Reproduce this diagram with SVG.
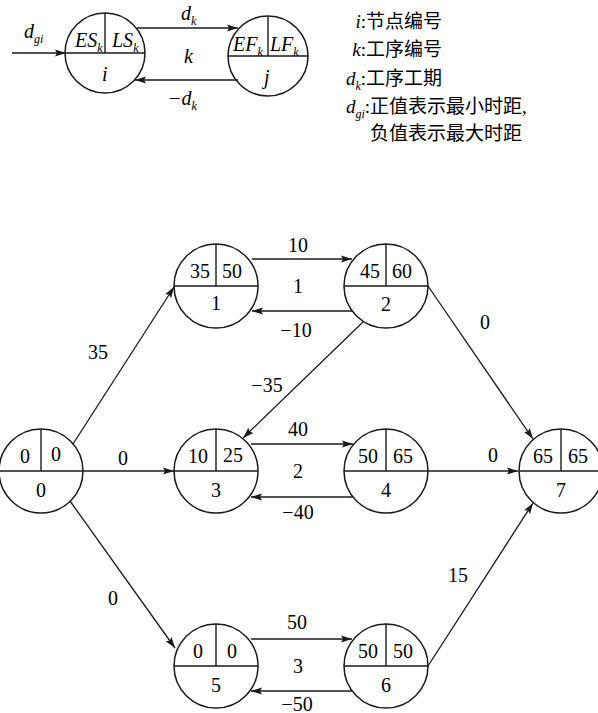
<svg xmlns="http://www.w3.org/2000/svg" width="598" height="713" viewBox="0 0 598 713">
<style>
.c{fill:none;stroke:#1a1a1a;stroke-width:1.5}
.l{stroke:#1a1a1a;stroke-width:1.4;fill:none}
.e{stroke:#1a1a1a;stroke-width:1.3;fill:none;marker-end:url(#ah)}
</style>
<defs>
<marker id="ah" markerUnits="userSpaceOnUse" markerWidth="12" markerHeight="8" refX="11" refY="4" orient="auto">
<path d="M0,0.4 L11,4 L0,7.6 L2,4 z" fill="#1a1a1a"/>
</marker>
</defs>
<rect width="598" height="713" fill="#fff"/>
<g id="legend-i">
<circle class="c" cx="105" cy="53" r="40"/>
<line class="l" x1="65" y1="53" x2="145" y2="53"/>
<line class="l" x1="105" y1="13" x2="105" y2="53"/>
<text font-family="Liberation Serif" font-style="italic" font-size="20" x="75" y="47">ES<tspan font-size="12" dy="5">k</tspan></text>
<text font-family="Liberation Serif" font-style="italic" font-size="20" x="112" y="47">LS<tspan font-size="12" dy="5">k</tspan></text>
<text font-family="Liberation Serif" font-style="italic" font-size="20" x="102" y="81">i</text>
</g>
<g id="legend-j">
<circle class="c" cx="268" cy="56" r="40"/>
<line class="l" x1="228" y1="56" x2="308" y2="56"/>
<line class="l" x1="268" y1="16" x2="268" y2="56"/>
<text font-family="Liberation Serif" font-style="italic" font-size="20" x="233" y="51">EF<tspan font-size="12" dy="5">k</tspan></text>
<text font-family="Liberation Serif" font-style="italic" font-size="20" x="270" y="51">LF<tspan font-size="12" dy="5">k</tspan></text>
<text font-family="Liberation Serif" font-style="italic" font-size="20" x="264" y="84">j</text>
</g>
<g id="legend-edges">
<line class="e" x1="12" y1="53" x2="66" y2="53"/>
<line class="e" x1="137" y1="28" x2="238" y2="28"/>
<line class="e" x1="238" y1="80" x2="135" y2="80"/>
<text font-family="Liberation Serif" font-style="italic" font-size="20" x="24" y="38">d<tspan font-size="12" dy="5">gi</tspan></text>
<text font-family="Liberation Serif" font-style="italic" font-size="20" x="181" y="20">d<tspan font-size="12" dy="5">k</tspan></text>
<text font-family="Liberation Serif" font-style="italic" font-size="20" x="184" y="63">k</text>
<text font-family="Liberation Serif" font-style="italic" font-size="20" x="168" y="105">−d<tspan font-size="12" dy="5">k</tspan></text>
</g>
<g id="legend-text">
<text font-family="Liberation Serif, Noto Sans CJK SC, serif" font-size="19" x="366" y="28" text-anchor="end"><tspan font-style="italic">i</tspan>:</text>
<text font-family="Liberation Serif, Noto Sans CJK SC, serif" font-size="19" x="366" y="28">节点编号</text>
<text font-family="Liberation Serif, Noto Sans CJK SC, serif" font-size="19" x="366" y="56" text-anchor="end"><tspan font-style="italic">k</tspan>:</text>
<text font-family="Liberation Serif, Noto Sans CJK SC, serif" font-size="19" x="366" y="56">工序编号</text>
<text font-family="Liberation Serif, Noto Sans CJK SC, serif" font-size="19" x="366" y="85" text-anchor="end"><tspan font-style="italic">d<tspan font-size="12" dy="5">k</tspan></tspan><tspan dy="-5">:</tspan></text>
<text font-family="Liberation Serif, Noto Sans CJK SC, serif" font-size="19" x="366" y="85">工序工期</text>
<text font-family="Liberation Serif, Noto Sans CJK SC, serif" font-size="19" x="370" y="113" text-anchor="end"><tspan font-style="italic">d<tspan font-size="12" dy="5">gi</tspan></tspan><tspan dy="-5">:</tspan></text>
<text font-family="Liberation Serif, Noto Sans CJK SC, serif" font-size="19" x="370" y="113">正值表示最小时距,</text>
<text font-family="Liberation Serif, Noto Sans CJK SC, serif" font-size="19" x="370" y="140">负值表示最大时距</text>
</g>

<g id="connectors" font-family="Liberation Serif" font-size="20" text-anchor="middle">
<line class="e" x1="73" y1="444" x2="174" y2="287"/>
<line class="e" x1="70" y1="501" x2="175" y2="648"/>
<line class="e" x1="83" y1="471" x2="174" y2="471"/>
<line class="e" x1="252" y1="259" x2="352" y2="259"/>
<line class="e" x1="352" y1="311" x2="252" y2="311"/>
<line class="e" x1="428" y1="286" x2="533" y2="439"/>
<line class="e" x1="363" y1="322" x2="243" y2="438"/>
<line class="e" x1="251" y1="444" x2="353" y2="444"/>
<line class="e" x1="353" y1="497" x2="251" y2="497"/>
<line class="e" x1="428" y1="471" x2="518" y2="471"/>
<line class="e" x1="251" y1="639" x2="352" y2="639"/>
<line class="e" x1="352" y1="691" x2="251" y2="691"/>
<line class="e" x1="428" y1="666" x2="533" y2="503"/>
<text font-family="Liberation Serif" x="98" y="359">35</text>
<text font-family="Liberation Serif" x="298" y="252">10</text>
<text font-family="Liberation Serif" x="298" y="293">1</text>
<text font-family="Liberation Serif" x="296" y="337">−10</text>
<text font-family="Liberation Serif" x="267" y="392">−35</text>
<text font-family="Liberation Serif" x="485" y="329">0</text>
<text font-family="Liberation Serif" x="123" y="465">0</text>
<text font-family="Liberation Serif" x="298" y="436">40</text>
<text font-family="Liberation Serif" x="298" y="478">2</text>
<text font-family="Liberation Serif" x="298" y="519">−40</text>
<text font-family="Liberation Serif" x="493" y="462">0</text>
<text font-family="Liberation Serif" x="113" y="605">0</text>
<text font-family="Liberation Serif" x="458" y="582">15</text>
<text font-family="Liberation Serif" x="297" y="629">50</text>
<text font-family="Liberation Serif" x="298" y="673">3</text>
<text font-family="Liberation Serif" x="297" y="711">−50</text>
</g>

<g id="node0" font-size="20" text-anchor="middle">
<circle class="c" cx="41" cy="471" r="42"/>
<line class="l" x1="-1" y1="471" x2="83" y2="471"/>
<line class="l" x1="41" y1="429" x2="41" y2="471"/>
<text font-family="Liberation Serif" x="25" y="463">0</text><text font-family="Liberation Serif" x="56" y="461">0</text><text font-family="Liberation Serif" x="41" y="497">0</text>
</g>
<g id="node1" font-size="20" text-anchor="middle">
<circle class="c" cx="216" cy="286" r="42"/>
<line class="l" x1="174" y1="286" x2="258" y2="286"/>
<line class="l" x1="216" y1="244" x2="216" y2="286"/>
<text font-family="Liberation Serif" x="200" y="278">35</text><text font-family="Liberation Serif" x="232" y="278">50</text><text font-family="Liberation Serif" x="216" y="310">1</text>
</g>
<g id="node2" font-size="20" text-anchor="middle">
<circle class="c" cx="386" cy="286" r="42"/>
<line class="l" x1="344" y1="286" x2="428" y2="286"/>
<line class="l" x1="386" y1="244" x2="386" y2="286"/>
<text font-family="Liberation Serif" x="370" y="278">45</text><text font-family="Liberation Serif" x="402" y="278">60</text><text font-family="Liberation Serif" x="386" y="311">2</text>
</g>
<g id="node3" font-size="20" text-anchor="middle">
<circle class="c" cx="216" cy="471" r="42"/>
<line class="l" x1="174" y1="471" x2="258" y2="471"/>
<line class="l" x1="216" y1="429" x2="216" y2="471"/>
<text font-family="Liberation Serif" x="198" y="463">10</text><text font-family="Liberation Serif" x="233" y="462">25</text><text font-family="Liberation Serif" x="216" y="497">3</text>
</g>
<g id="node4" font-size="20" text-anchor="middle">
<circle class="c" cx="386" cy="471" r="42"/>
<line class="l" x1="344" y1="471" x2="428" y2="471"/>
<line class="l" x1="386" y1="429" x2="386" y2="471"/>
<text font-family="Liberation Serif" x="368" y="463">50</text><text font-family="Liberation Serif" x="403" y="463">65</text><text font-family="Liberation Serif" x="386" y="497">4</text>
</g>
<g id="node5" font-size="20" text-anchor="middle">
<circle class="c" cx="216" cy="666" r="42"/>
<line class="l" x1="174" y1="666" x2="258" y2="666"/>
<line class="l" x1="216" y1="624" x2="216" y2="666"/>
<text font-family="Liberation Serif" x="198" y="658">0</text><text font-family="Liberation Serif" x="232" y="658">0</text><text font-family="Liberation Serif" x="216" y="692">5</text>
</g>
<g id="node6" font-size="20" text-anchor="middle">
<circle class="c" cx="386" cy="666" r="42"/>
<line class="l" x1="344" y1="666" x2="428" y2="666"/>
<line class="l" x1="386" y1="624" x2="386" y2="666"/>
<text font-family="Liberation Serif" x="368" y="658">50</text><text font-family="Liberation Serif" x="403" y="658">50</text><text font-family="Liberation Serif" x="386" y="692">6</text>
</g>
<g id="node7" font-size="20" text-anchor="middle">
<circle class="c" cx="561" cy="471" r="42"/>
<line class="l" x1="519" y1="471" x2="603" y2="471"/>
<line class="l" x1="561" y1="429" x2="561" y2="471"/>
<text font-family="Liberation Serif" x="543" y="463">65</text><text font-family="Liberation Serif" x="578" y="463">65</text><text font-family="Liberation Serif" x="561" y="497">7</text>
</g>
</svg>
